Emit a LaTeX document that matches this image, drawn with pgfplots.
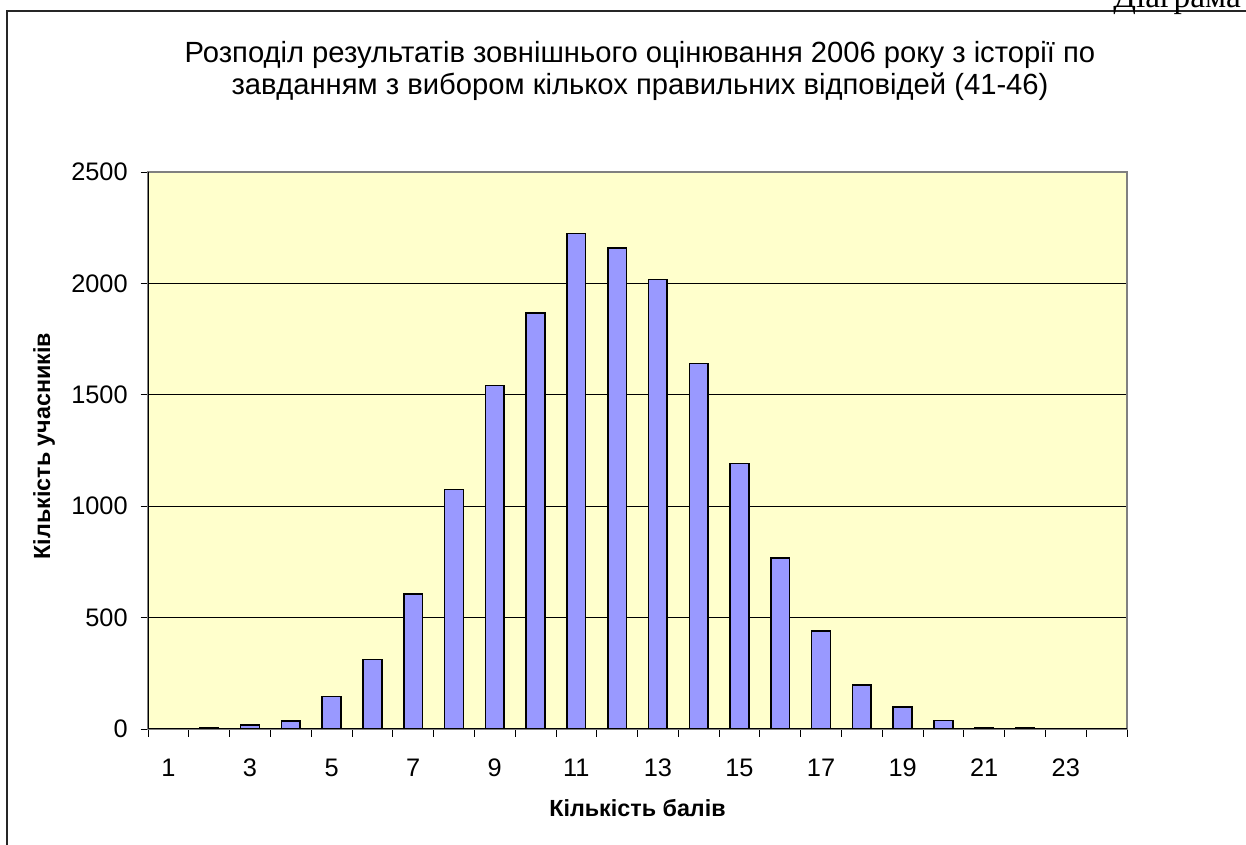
\documentclass[border=0pt]{standalone}
\usepackage{fontspec}
\setmainfont{Liberation Sans}
\newfontfamily\timesfont{Liberation Serif}
\usepackage{pgfplots}
\pgfplotsset{compat=1.18}
\definecolor{plotbg}{HTML}{FFFFCC}
\definecolor{barfill}{HTML}{9999FF}
\begin{document}
\begin{tikzpicture}[x=0.75pt,y=0.75pt]
\path[use as bounding box, clip] (0,0) rectangle (1246,845);
\fill[white] (0,0) rectangle (1246,845);
\draw[line width=1.1pt, black!85] (7,-10) -- (7,834) -- (1260,834);
\node[anchor=base west, font=\timesfont\fontsize{25}{28}\selectfont, inner sep=0pt] at (1113,837) {Діаграма 1};
\begin{axis}[
  at={(111pt,87pt)}, anchor=south west,
  width=734.25pt, height=417.75pt, scale only axis,
  xmin=0.5, xmax=24.5, ymin=0, ymax=2500,
  axis background/.style={fill=plotbg},
  axis line style={draw=black!50, line width=0.8pt},
  xtick={1,3,...,23},
  minor xtick={0.5,1.5,...,24.5},
  major x tick style={draw=none},
  minor x tick style={black, line width=0.6pt},
  minor tick length=6pt,
  ytick={0,500,...,2500},
  major tick length=5.5pt,
  tick align=outside,
  xtick pos=bottom, ytick pos=left,
  ymajorgrids,
  grid style={black, line width=0.6pt},
  y tick style={black, line width=0.6pt},
  tick label style={font=\fontsize{19}{22}\selectfont},
  /pgf/number format/assume math mode=true,
  /pgf/number format/set thousands separator={},
  xticklabel style={yshift=-13.25pt},
  yticklabel style={xshift=-6.25pt},
  title={Розподіл результатів зовнішнього оцінювання 2006 року з історії по\\завданням з вибором кількох правильних відповідей (41-46)},
  title style={at={(axis description cs:0.5026,1.167)}, anchor=center, align=center, font=\fontsize{21.9}{24.5}\selectfont},
  xlabel={Кількість балів},
  xlabel style={at={(axis description cs:0.5,-0.1418)}, anchor=center, font=\bfseries\fontsize{17.5}{20}\selectfont},
  ylabel={Кількість учасників},
  ylabel style={at={(axis description cs:-0.1062,0.508)}, anchor=center, rotate=0, font=\bfseries\fontsize{17.5}{20}\selectfont},
]
\addplot[ybar, bar width=0.46, fill=barfill, draw=black, line width=1.2pt] coordinates {
(1,0) (2,5) (3,18) (4,37) (5,145) (6,312) (7,607) (8,1075) (9,1542) (10,1866)
(11,2224) (12,2158) (13,2017) (14,1640) (15,1192) (16,767) (17,440) (18,198)
(19,100) (20,38) (21,6) (22,6) (23,0) (24,0)
};
\draw[black, line width=0.8pt] (rel axis cs:0,1) -- (rel axis cs:0,0) -- (rel axis cs:1,0);
\end{axis}
\end{tikzpicture}
\end{document}
